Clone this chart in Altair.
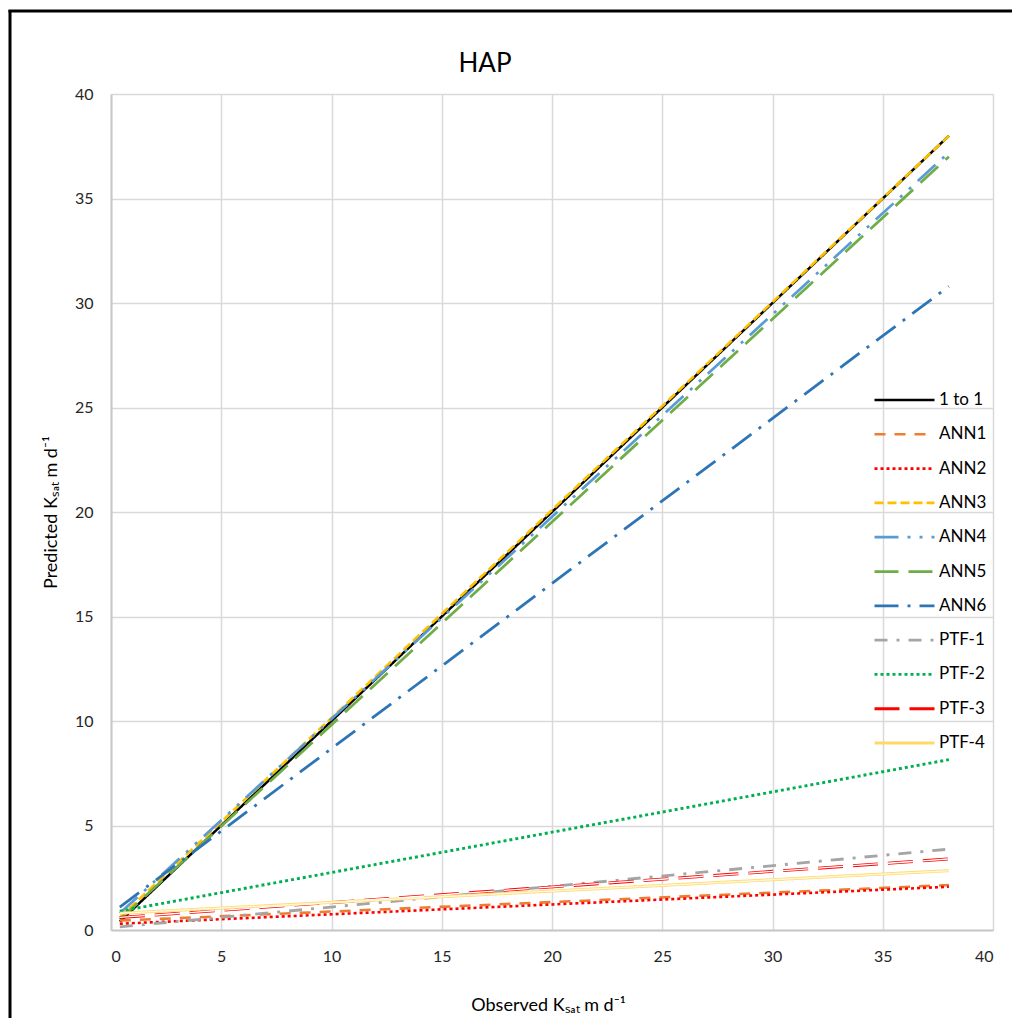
import altair as alt
import pandas as pd

# ---- data ----
series = ["1 to 1", "ANN1", "ANN2", "ANN3", "ANN4", "ANN5", "ANN6",
          "PTF-1", "PTF-2", "PTF-3", "PTF-4"]
x_start = [0.4] * 11
x_end = [38.0] * 11
y_start = [0.4, 0.45, 0.3, 0.6, 0.8, 0.5, 1.1, 0.15, 0.9, 0.6, 0.8]
y_end = [38.0, 2.15, 2.07, 38.0, 37.2, 37.0, 30.8, 3.87, 8.15, 3.4, 2.84]

colors = ["#000000", "#ED7D31", "#FF0000", "#FFC000", "#5B9BD5", "#70AD47",
          "#2E75B6", "#A5A5A5", "#00B050", "#FF0000", "#FFD966"]
dashes = [[1, 0], [11, 9], [3, 3], [9, 4], [24, 9, 3, 9, 3, 9], [24, 10],
          [24, 9, 3, 9], [13, 9, 3, 9], [3, 3], [25, 10], [1, 0]]
widths = [2.5, 3, 3, 3, 3, 3, 3, 3, 3, 4, 4]

x_ticks = [0, 5, 10, 15, 20, 25, 30, 35, 40]
y_ticks = [0, 5, 10, 15, 20, 25, 30, 35, 40]

rows = []
for i, s in enumerate(series):
    rows.append({"series": s, "order": i, "x": x_start[i], "y": y_start[i]})
    rows.append({"series": s, "order": i, "x": x_end[i], "y": y_end[i]})
df = pd.DataFrame(rows)

FONT = "Lato"
W, H = 882, 836

xs = alt.Scale(domain=[0, 40], nice=False, zero=False)
ys = alt.Scale(domain=[0, 40], nice=False, zero=False)

base = alt.Chart(df)

lines = base.mark_line(strokeCap="butt", clip=True).encode(
    x=alt.X("x:Q", scale=xs,
            axis=alt.Axis(values=x_ticks, title="Observed Kₛₐₜ m d⁻¹",
                          titlePadding=32, titleX=437)),
    y=alt.Y("y:Q", scale=ys,
            axis=alt.Axis(values=y_ticks, title="Predicted Kₛₐₜ m d⁻¹",
                          titlePadding=14)),
    color=alt.Color("series:N", sort=series,
                    scale=alt.Scale(domain=series, range=colors),
                    legend=alt.Legend(title=None)),
    strokeDash=alt.StrokeDash("series:N", sort=series,
                              scale=alt.Scale(domain=series, range=dashes),
                              legend=alt.Legend(title=None)),
    strokeWidth=alt.StrokeWidth("series:N", sort=series,
                                scale=alt.Scale(domain=series, range=widths),
                                legend=None),
    detail="series:N",
    order="order:Q",
)

ptf3_inner = base.transform_filter(alt.datum.series == "PTF-3").mark_line(
    color="white", strokeWidth=1.3, strokeDash=[25, 10], strokeCap="butt"
).encode(x="x:Q", y="y:Q")

ptf4_inner = base.transform_filter(alt.datum.series == "PTF-4").mark_line(
    color="#FFF5D9", strokeWidth=1.5
).encode(x="x:Q", y="y:Q")

frame_data = alt.Data(values=[{}])
frame_left = alt.Chart(frame_data).mark_rule(color="black", strokeWidth=3).encode(
    x=alt.value(-101), y=alt.value(-84), y2=alt.value(H + 100))
frame_top = alt.Chart(frame_data).mark_rule(color="black", strokeWidth=3).encode(
    x=alt.value(-102.5), x2=alt.value(W + 30), y=alt.value(-83))

title_mark = alt.Chart(frame_data).mark_text(
    text="HAP", font=FONT, fontSize=26, color="#000000",
    align="center", baseline="alphabetic"
).encode(x=alt.value(374), y=alt.value(-22))

chart = alt.layer(lines, ptf3_inner, ptf4_inner, frame_left, frame_top,
                  title_mark).properties(
    width=W, height=H,
    autosize=alt.AutoSizeParams(type="none"),
    padding={"left": 103, "top": 86, "right": 19, "bottom": 88},
).configure_view(
    stroke=None
).configure_axis(
    labelFont=FONT, labelFontSize=16, labelColor="#262626",
    titleFont=FONT, titleFontSize=18, titleFontWeight="normal", titleColor="#000000",
    grid=True, gridColor="#D9D9D9", gridWidth=1.5,
    domainColor="#C8C8C8", domainWidth=2,
    ticks=False, labelPadding=18,
).configure_legend(
    orient="none", legendX=762, legendY=296, padding=0,
    symbolType="stroke", symbolSize=3600, symbolStrokeWidth=3,
    clipHeight=20, rowPadding=14.3, labelFont=FONT, labelFontSize=17,
    labelColor="#000000", labelOffset=3, labelLimit=200,
)

chart.save("out.html", embed_options={"renderer": "svg", "actions": False})
